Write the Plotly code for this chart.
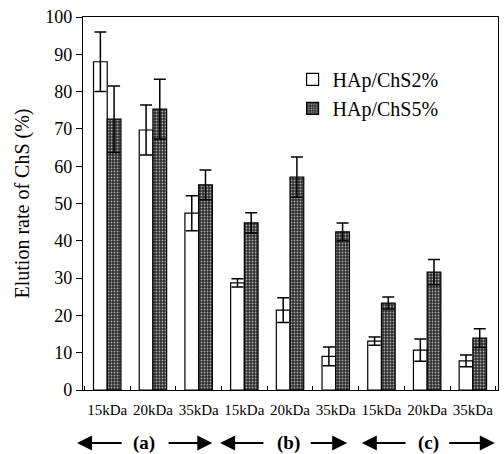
import plotly.graph_objects as go

# ---- data ----
categories = ["15kDa", "20kDa", "35kDa", "15kDa", "20kDa", "35kDa", "15kDa", "20kDa", "35kDa"]
x_pos = list(range(len(categories)))
series_names = ["HAp/ChS2%", "HAp/ChS5%"]
chs2_values = [88.0, 69.7, 47.4, 28.7, 21.4, 9.0, 13.1, 10.7, 7.8]
chs2_errors = [8.0, 6.7, 4.7, 1.1, 3.3, 2.5, 1.1, 3.0, 1.6]
chs5_values = [72.6, 75.3, 55.0, 44.8, 57.1, 42.4, 23.3, 31.6, 13.9]
chs5_errors = [8.9, 8.0, 4.0, 2.7, 5.4, 2.4, 1.6, 3.4, 2.5]
group_labels = ["(a)", "(b)", "(c)"]
y_ticks = list(range(0, 101, 10))

FONT = "Liberation Serif, Times New Roman, serif"

fig = go.Figure()
fig.add_trace(go.Bar(
    name=series_names[0], x=x_pos, y=chs2_values,
    marker=dict(color="white", line=dict(color="black", width=1.2)),
    error_y=dict(type="data", array=chs2_errors, visible=True,
                 color="black", thickness=1.5, width=6),
))
fig.add_trace(go.Bar(
    name=series_names[1], x=x_pos, y=chs5_values,
    marker=dict(color="#3a3a3a", line=dict(color="black", width=1.2),
                pattern=dict(shape=".", bgcolor="#2e2e2e", fgcolor="#a8a8a8",
                             size=3, solidity=0.3, fillmode="replace")),
    error_y=dict(type="data", array=chs5_errors, visible=True,
                 color="black", thickness=1.5, width=6),
))

# group arrows below the axis
arrow_specs = [  # (label, left_tip, left_tail, center, right_tail, right_tip)
    ("(a)", -0.66, 0.35, 0.81, 1.31, 2.30),
    ("(b)", 2.47, 3.45, 3.96, 4.42, 5.25),
    ("(c)", 5.57, 6.56, 7.02, 7.45, 8.48),
]
annotations = []
arrow_y = -0.142
for lab, lt, ltail, c, rtail, rt in arrow_specs:
    annotations.append(dict(x=c, y=arrow_y, xref="x", yref="paper", text="<b>%s</b>" % lab,
                            showarrow=False, font=dict(family=FONT, size=19, color="black"),
                            xanchor="center", yanchor="middle"))
    for tip, tail in ((lt, ltail), (rt, rtail)):
        annotations.append(dict(x=tip, y=arrow_y, xref="x", yref="paper",
                                ax=tail, ay=0, axref="x", ayref="pixel",
                                showarrow=True, arrowhead=2, arrowsize=1.5,
                                arrowwidth=2, arrowcolor="black", text=""))

fig.update_layout(
    width=504, height=454,
    margin=dict(l=83, r=6, t=17, b=64),
    paper_bgcolor="white", plot_bgcolor="white",
    barmode="group", bargap=0.4, bargroupgap=0.0,
    font=dict(family=FONT, color="black"),
    showlegend=True,
    legend=dict(x=0.505, y=0.885, xanchor="left", yanchor="top",
                font=dict(family=FONT, size=20, color="black"),
                bgcolor="rgba(0,0,0,0)", tracegroupgap=0, itemwidth=30),
    annotations=annotations,
)
fig.update_xaxes(
    range=[-0.53, 8.55], tickmode="array", tickvals=x_pos, ticktext=categories,
    ticks="", tickfont=dict(family=FONT, size=15, color="black"), ticklabelstandoff=6,
    showline=True, linecolor="black", linewidth=1.2, mirror=True, showgrid=False,
    zeroline=False,
    minor=dict(ticks="inside", tick0=0.5, dtick=1, ticklen=4, tickcolor="black"),
)
fig.update_yaxes(
    range=[0, 100], tickmode="array", tickvals=y_ticks,
    ticks="outside", ticklen=6, tickcolor="black",
    tickfont=dict(family=FONT, size=18, color="black"),
    showline=True, linecolor="black", linewidth=1.2, mirror=True, showgrid=False,
    zeroline=False,
    title=dict(text="Elution rate of ChS (%)", font=dict(family=FONT, size=20, color="black"),
               standoff=10),
)

fig.write_html("out.html", config={"displayModeBar": False},
               post_script="document.body.style.margin='0';document.body.style.padding='0';")
